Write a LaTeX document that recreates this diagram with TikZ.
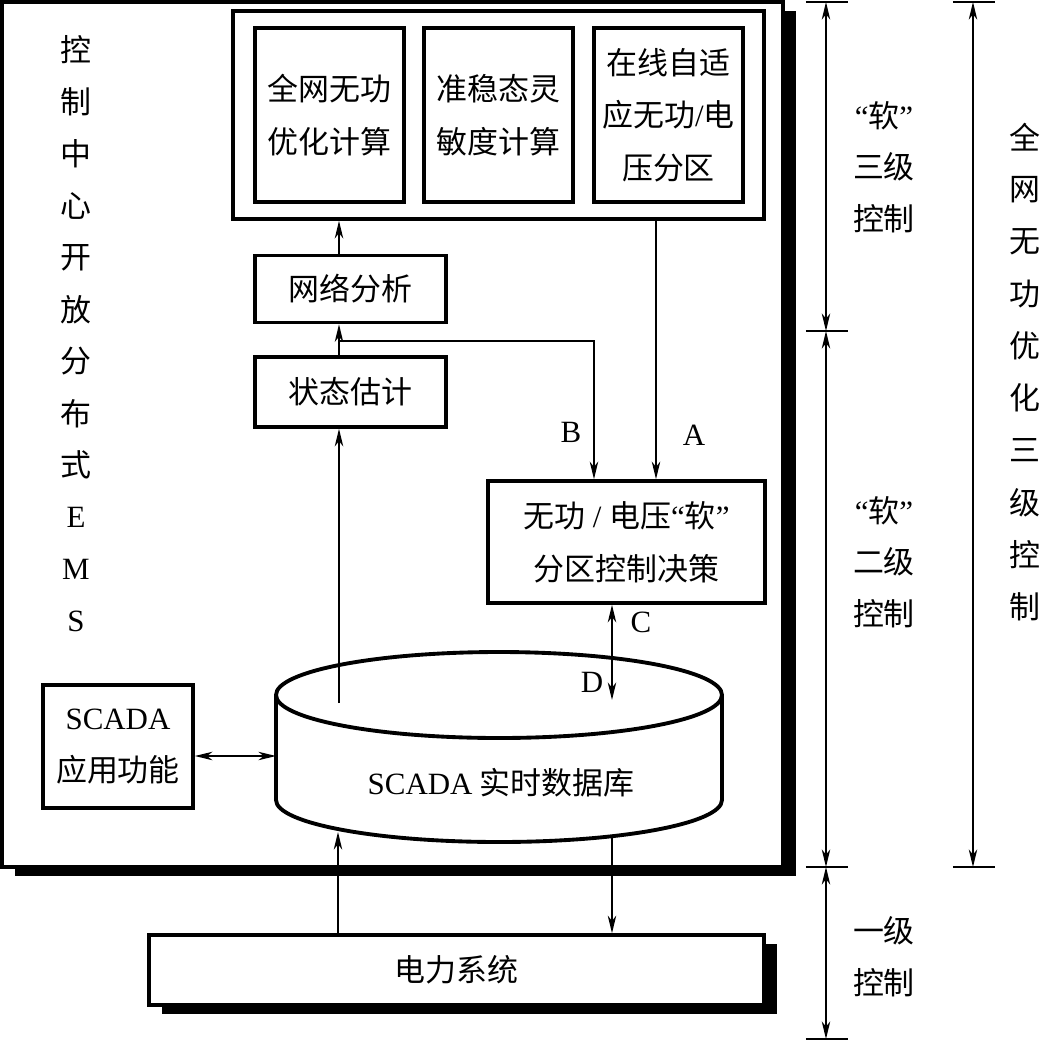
\documentclass[tikz,border=0pt]{standalone}
\usepackage{fontspec}
\setmainfont{Liberation Serif}
\newfontfamily\cjk{Noto Sans CJK SC}
\usepackage{tikz}
\usetikzlibrary{calc,arrows.meta,shadows}
\newcommand{\lat}[1]{{\rmfamily #1}}
\tikzset{
  box/.style={draw,line width=1pt,inner sep=0pt,align=center},
  shbox/.style={box,fill=white,drop shadow={shadow xshift=0.13cm,shadow yshift=-0.09cm,fill=black,opacity=1}},
  arr/.style={line width=0.5pt,-{Stealth[length=5pt,width=2.4pt,inset=1.5pt]}},
  dbl/.style={line width=0.5pt,{Stealth[length=5pt,width=2.4pt,inset=1.5pt]}-{Stealth[length=5pt,width=2.4pt,inset=1.5pt]}},
  tick/.style={line width=0.8pt},
  lbl/.style={inner sep=0pt,align=center,font=\cjk\fontsize{8.8}{14.7}\selectfont}
}

\begin{document}
\begin{tikzpicture}[x=0.01cm,y=-0.01cm,font=\cjk\fontsize{8.8}{15}\selectfont]
  \useasboundingbox (0,0) rectangle (1044,1041);

  % --- EMS frame and optimisation group ---
  \node[shbox,line width=1.1pt,minimum width=7.81cm,minimum height=8.65cm]
    (ems) at (392.5,434.5) {};
  \node[box,minimum width=5.31cm,minimum height=2.08cm] (grp) at (498.5,115) {};
  \node[box,minimum width=1.49cm,minimum height=1.74cm] (opt) at (329.5,115)
    {全网无功\\优化计算};
  \node[box,minimum width=1.49cm,minimum height=1.74cm] (sens) at (498.5,115)
    {准稳态灵\\敏度计算};
  \node[box,minimum width=1.49cm,minimum height=1.74cm] (zone) at (668.5,115)
    {在线自适\\应无功\lat{/}电\\压分区};

  \node[box,minimum width=1.91cm,minimum height=0.67cm] (net) at (350.5,289) {网络分析};
  \node[box,minimum width=1.91cm,minimum height=0.70cm] (est) at (350.5,392) {状态估计};
  \node[box,minimum width=2.77cm,minimum height=1.22cm] (dec) at (626.5,542)
    {无功\lat{ / }电压\lat{“}软\lat{”}\\分区控制决策};
  \node[box,minimum width=1.50cm,minimum height=1.23cm] (app) at (118,746.5)
    {\lat{SCADA}\\应用功能};

  % left caption
  \foreach \c [count=\i] in {控,制,中,心,开,放,分,布,式,\lat{E},\lat{M},\lat{S}}
    \node[inner sep=0pt] (lt\i) at (76,{50+(\i-1)*51.9}) {\c};

  % --- database cylinder ---
  \draw[line width=1.1pt,fill=white] (276,695) -- (276,800)
    arc[start angle=180,end angle=0,x radius=223,y radius=42] -- (722,695);
  \draw[line width=1.1pt] (499,695) ellipse [x radius=223,y radius=43];
  \node[inner sep=0pt] (db) at (501,783) {\lat{SCADA} 实时数据库};
  \coordinate (dbin) at (339,703);
  \coordinate (dtop) at (612,700);
  \coordinate (dbw)  at (276,756);
  \coordinate (dbb1) at (338,832);
  \coordinate (dbb2) at (612,836);

  % --- power system ---
  \node[shbox,minimum width=6.15cm,minimum height=0.70cm] (pwr) at (456.5,970) {电力系统};

  % --- connectors ---
  \coordinate (jn) at (339,341);
  \coordinate (b) at ([xshift=-0.325cm]dec.north);
  \coordinate (a) at ([xshift=0.295cm]dec.north);
  \draw[arr] (est.north -| jn) -- (net.south -| jn);
  \draw[arr] (net.north -| jn) -- (grp.south -| jn);
  \draw[arr] (jn) -| (b);
  \draw[arr] (grp.south -| a) -- (a);
  \draw[dbl] (dec.south -| dtop) -- (dtop);
  \draw[arr] (dbin) -- (est.south -| dbin);
  \draw[dbl] (app.east |- dbw) -- (dbw);
  \draw[arr] (pwr.north -| dbb1) -- (dbb1);
  \draw[arr] (dbb2) -- (pwr.north -| dbb2);
  \node[inner sep=0pt] (lb) at (571,432) {\lat{B}};
  \node[inner sep=0pt] (la) at (694,435) {\lat{A}};
  \node[inner sep=0pt] (lc) at (641,622) {\lat{C}};
  \node[inner sep=0pt] (ld) at (592,682) {\lat{D}};

  % --- right: control levels ---
  \coordinate (r0) at (826,2);
  \coordinate (r1) at (826,331);
  \coordinate (r2) at (826,867);
  \coordinate (r3) at (826,1039);
  \coordinate (s0) at (973,2);
  \coordinate (s1) at (973,867);
  \foreach \p in {r0,r1,r2,r3}
    \draw[tick] ($(\p)+(-20,0)$) -- ($(\p)+(22,0)$);
  \foreach \p in {s0,s1}
    \draw[tick] ($(\p)+(-20,0)$) -- ($(\p)+(22,0)$);
  \draw[dbl] (r0) -- (r1);
  \draw[dbl] (r1) -- (r2);
  \draw[dbl] (r2) -- (r3);
  \draw[dbl] (s0) -- (s1);
  \node[lbl] (l3) at (884,167) {\lat{“}软\lat{”}\\三级\\控制};
  \node[lbl] (l2) at (884,562) {\lat{“}软\lat{”}\\二级\\控制};
  \node[lbl] (l1) at (884,957) {一级\\控制};
  \foreach \c [count=\i] in {全,网,无,功,优,化,三,级,控,制}
    \node[inner sep=0pt] (rt\i) at (1025,{137+(\i-1)*52.2}) {\c};
\end{tikzpicture}
\end{document}
